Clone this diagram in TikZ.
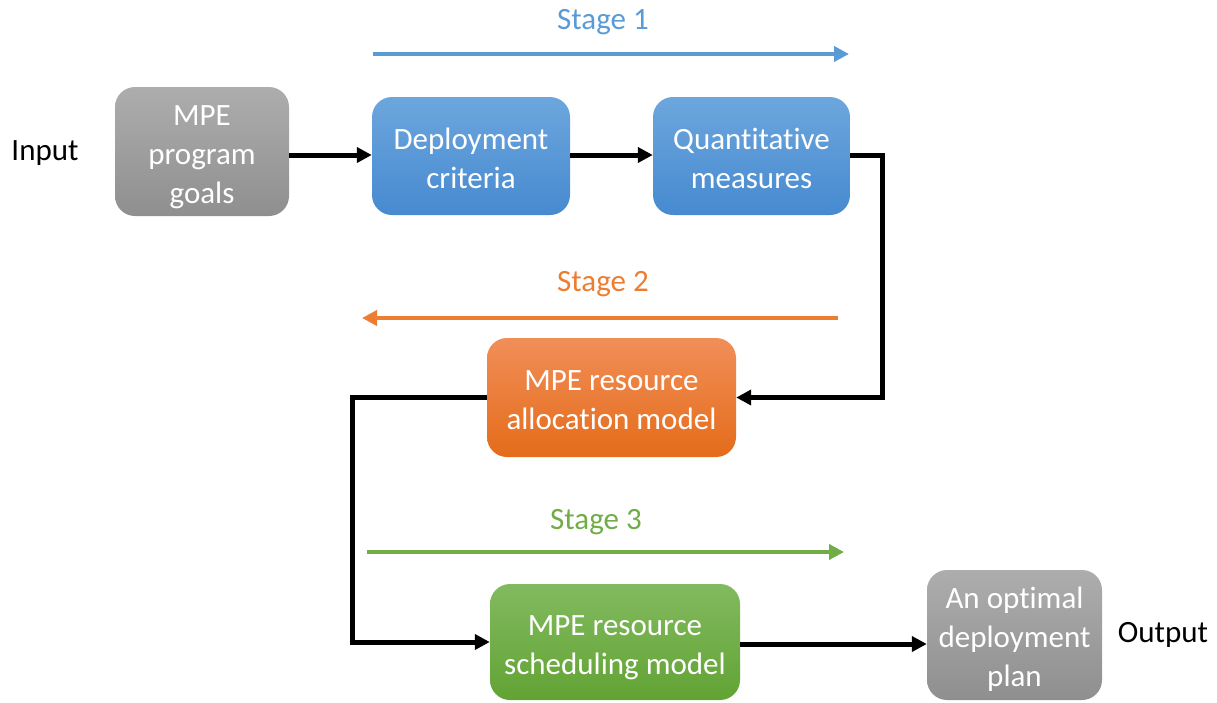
\documentclass[tikz,border=0pt]{standalone}
\usepackage{fontspec}
\setmainfont{Carlito}[Ligatures=NoCommon]
\usetikzlibrary{arrows.meta}
\definecolor{stageblue}{HTML}{5B9BD5}
\definecolor{stageorange}{HTML}{ED7D31}
\definecolor{stagegreen}{HTML}{70AD47}
\definecolor{blueTop}{HTML}{6CA6DD}
\definecolor{blueBot}{HTML}{478AD0}
\definecolor{orangeTop}{HTML}{F18E58}
\definecolor{orangeBot}{HTML}{E46C1A}
\definecolor{greenTop}{HTML}{82BA5F}
\definecolor{greenBot}{HTML}{62A334}
\definecolor{grayTop}{HTML}{ADADAD}
\definecolor{grayBot}{HTML}{8F8F8F}
% centred lines of box text, set a little low as in a slide text frame
\newcommand{\boxlines}[1]{\raisebox{-5pt}[\height][\depth]{\begin{tabular}{@{}c@{}}#1\end{tabular}}}
\tikzset{
  box/.style={rounded corners=20pt, text=white, inner sep=0pt,
    font=\fontsize{31}{39}\selectfont},
  graybox/.style={box, top color=grayTop, bottom color=grayBot},
  bluebox/.style={box, top color=blueTop, bottom color=blueBot},
  orangebox/.style={box, top color=orangeTop, bottom color=orangeBot},
  greenbox/.style={box, top color=greenTop, bottom color=greenBot},
  flow/.style={line width=5pt, -{Triangle[length=15pt,width=15pt]}},
  stagearrow/.style={line width=4pt, -{Triangle[length=15pt,width=15pt]}},
  plain/.style={font=\fontsize{31}{36}\selectfont},
}
\begin{document}
\begin{tikzpicture}[x=1pt,y=-1pt]
\useasboundingbox (0,0) rectangle (1217,702);
% process boxes
\node[graybox, minimum width=174pt, minimum height=129pt] (goals) at (202,151.5) {\boxlines{MPE\\program\\goals}};
\node[bluebox, minimum width=198pt, minimum height=118pt] (crit) at (471,156) {\boxlines{Deployment\\criteria}};
\node[bluebox, minimum width=197pt, minimum height=118pt] (quant) at (751.5,156) {\boxlines{Quantitative\\measures}};
\node[orangebox, minimum width=249pt, minimum height=119pt] (alloc) at (611.5,397.5) {\boxlines{MPE resource\\allocation model}};
\node[greenbox, minimum width=250pt, minimum height=116pt] (sched) at (615,642) {\boxlines{MPE resource\\scheduling model}};
\node[graybox, minimum width=175pt, minimum height=130pt] (plan) at (1014.5,635) {\boxlines{An optimal\\deployment\\plan}};
% side labels
\node[plain] (in) at (45,153) {Input};
\node[plain] (out) at (1163,635) {Output};
% stage labels and direction arrows
\node[plain, text=stageblue] (s1) at (603,22.5) {Stage 1};
\coordinate (s1a) at (373,54); \coordinate (s1b) at (849,54);
\draw[stagearrow, stageblue] (s1a) -- (s1b);
\node[plain, text=stageorange] (s2) at (603,284.5) {Stage 2};
\coordinate (s2a) at (838,318); \coordinate (s2b) at (362,318);
\draw[stagearrow, stageorange] (s2a) -- (s2b);
\node[plain, text=stagegreen] (s3) at (596,522.5) {Stage 3};
\coordinate (s3a) at (367,552); \coordinate (s3b) at (844,552);
\draw[stagearrow, stagegreen] (s3a) -- (s3b);
% connectors
\draw[flow] (goals.east |- 0,155) -- (crit.west |- 0,155);
\draw[flow] (crit.east |- 0,155) -- (quant.west |- 0,155);
\draw[flow] (quant.east |- 0,155) -| (882,397.5) -- (alloc.east);
\draw[flow] (alloc.west) -| (352,642) -- (sched.west);
\draw[flow] (sched.east |- 0,644) -- (plan.west |- 0,644);
\end{tikzpicture}
\end{document}
